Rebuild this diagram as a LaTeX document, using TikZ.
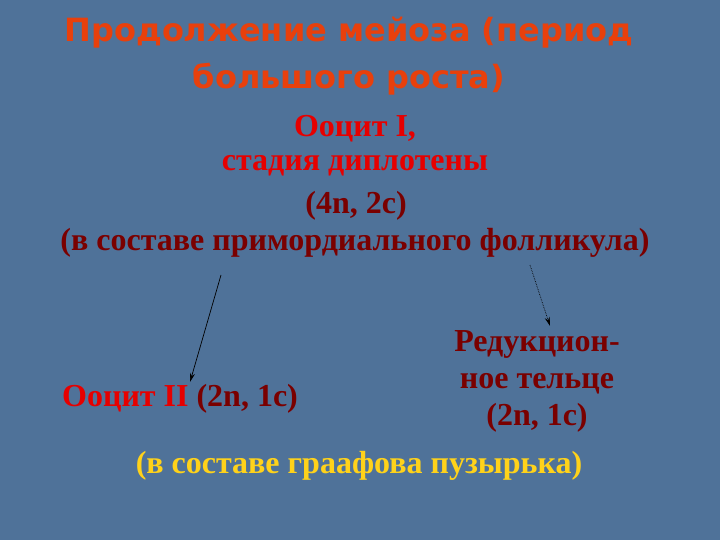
\documentclass[tikz,border=0pt]{standalone}
\usepackage{fontspec}
\setmainfont{Liberation Serif}
\newfontfamily\titlefont{DejaVu Sans}
\usepackage{tikz}
\usetikzlibrary{positioning,arrows.meta}

\definecolor{slideblue}{HTML}{4F7299}
\definecolor{titleorange}{HTML}{E8400C}
\definecolor{brightred}{HTML}{E60000}
\definecolor{darkred}{HTML}{7A0000}
\definecolor{paleyellow}{HTML}{FFD21A}

\tikzset{
	headline/.style={font=\titlefont\bfseries\fontsize{32}{38}\selectfont,
		text=titleorange, inner sep=0pt},
	bodytext/.style={font=\bfseries\fontsize{32}{37}\selectfont,
		inner sep=0pt, align=center},
	pointer/.style={-{Stealth[length=9pt,width=5pt]}, black, line width=0.7pt}
}

\begin{document}
\begin{tikzpicture}[x=1pt,y=-1pt]
		\fill[slideblue] (0,0) rectangle (720,540);
		\useasboundingbox (0,0) rectangle (720,540);

		% title
		\node[headline] (title1) at (349,33) {Продолжение мейоза (период};
		\node[headline] (title2) at (349,79) {большого роста)};

		% oocyte I
		\node[bodytext, text=brightred] (oo1) at (355,129) {Ооцит I,};
		\node[bodytext, text=brightred] (stage) at (355,166) {стадия диплотены};
		\node[bodytext, text=darkred] (set1) at (356,206) {(4n, 2c)};
		\node[bodytext, text=darkred] (foll1) at (355,243)
			{(в составе примордиального фолликула)};

		% products
		\node[bodytext, anchor=west] (oo2) at (62,399)
			{\textcolor{brightred}{Ооцит II} \textcolor{darkred}{(2n, 1c)}};
		\node[bodytext, text=darkred] (polar) at (537,381)
			{Редукцион-\\ное тельце\\(2n, 1c)};
		\node[bodytext, text=paleyellow] (foll2) at (359,466)
			{(в составе граафова пузырька)};

		\coordinate (a1) at (221,275);
		\coordinate (a1end) at (190,382);
		\coordinate (a2) at (530,265);
		\coordinate (a2end) at (550,326);

		\draw[pointer] (a1) -- (a1end);
		\draw[pointer, densely dotted] (a2) -- (a2end);

	\end{tikzpicture}
\end{document}
